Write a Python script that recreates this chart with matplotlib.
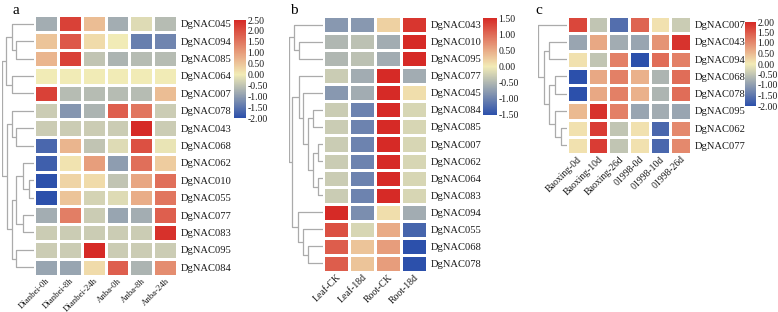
import numpy as np
import matplotlib
matplotlib.use('Agg')
from matplotlib import pyplot as plt
from matplotlib.colors import LinearSegmentedColormap, Normalize

################################################################################
# Data
#
# panel a_______________________________________________________________________

a_rows = ['DgNAC045', 'DgNAC094', 'DgNAC085', 'DgNAC064', 'DgNAC007',
          'DgNAC078', 'DgNAC043', 'DgNAC068', 'DgNAC062', 'DgNAC010',
          'DgNAC055', 'DgNAC077', 'DgNAC083', 'DgNAC095', 'DgNAC084']
a_cols = ['Dianbei-0h', 'Dianbei-8h', 'Dianbei-24h', 'Anba-0h', 'Anba-8h',
          'Anba-24h']
a_vals = [[-0.8,  2.2,  0.6, -0.8, -0.2, -0.6],
          [ 0.5,  1.9,  0.2,  0.0, -1.4, -1.3],
          [ 0.7,  2.2, -0.5, -0.7, -0.6, -0.6],
          [ 0.0,  0.0,  0.0,  0.0,  0.0,  0.0],
          [ 2.2, -0.6, -0.6, -0.6, -0.6,  0.6],
          [-0.4, -1.1, -0.7,  1.8,  1.5, -0.4],
          [-0.4, -0.4, -0.4, -0.4,  2.5, -0.4],
          [-1.7,  0.7, -0.5, -0.2,  2.0, -0.1],
          [-1.8,  0.1,  1.0, -1.0,  1.6,  0.4],
          [-2.0,  0.3,  0.2, -0.5,  0.9,  1.6],
          [-2.0,  0.5, -0.3, -0.2,  0.8,  1.5],
          [-0.8,  1.4, -0.4, -0.9, -0.8,  1.8],
          [-0.4, -0.4, -0.4, -0.4, -0.4,  2.4],
          [-0.4, -0.4,  2.5, -0.4, -0.4, -0.4],
          [-0.9, -0.9,  0.2,  1.8, -0.7,  1.2]]
# merges (child, child, height) -- leaves are row indices
a_tree = [(1, 2, .55), (0, 15, .70), (3, 4, .70), (16, 17, .87),
          (6, 7, .55), (5, 19, .70), (9, 10, .17), (8, 21, .35),
          (11, 12, .35), (22, 23, .55), (13, 14, .55), (24, 25, .70),
          (20, 26, .85), (18, 27, 1.0)]
a_ticks = [-2.0, -1.5, -1.0, -0.5, 0.0, 0.5, 1.0, 1.5, 2.0, 2.5]

# panel b_______________________________________________________________________

b_rows = ['DgNAC043', 'DgNAC010', 'DgNAC095', 'DgNAC077', 'DgNAC045',
          'DgNAC084', 'DgNAC085', 'DgNAC007', 'DgNAC062', 'DgNAC064',
          'DgNAC083', 'DgNAC094', 'DgNAC055', 'DgNAC068', 'DgNAC078']
b_cols = ['Leaf-CK', 'Leaf-18d', 'Root-CK', 'Root-18d']
b_vals = [[-0.8, -0.8,  0.2,  1.4],
          [-0.5, -0.4, -0.6,  1.5],
          [-0.5, -0.4, -0.6,  1.5],
          [-0.3, -0.6,  1.5, -0.6],
          [-0.8, -0.6,  1.5,  0.1],
          [-0.3, -1.0,  1.5, -0.2],
          [-0.3, -1.0,  1.5, -0.2],
          [-0.3, -1.0,  1.5, -0.2],
          [-0.3, -1.0,  1.5, -0.2],
          [-0.3, -1.0,  1.5, -0.2],
          [-0.3, -1.0,  1.5, -0.2],
          [ 1.5, -0.9,  0.1, -0.6],
          [ 1.2, -0.2,  0.5, -1.3],
          [ 1.1,  0.3,  0.6, -1.5],
          [ 1.1,  0.3,  0.6, -1.5]]
b_tree = [(1, 2, .70), (0, 15, .85), (7, 8, .15), (9, 10, .15),
          (17, 18, .30), (5, 6, .30), (20, 19, .45), (4, 21, .60),
          (3, 22, .70), (13, 14, .45), (12, 24, .60), (11, 25, .73),
          (23, 26, .90), (16, 27, 1.0)]
b_ticks = [-1.5, -1.0, -0.5, 0.0, 0.5, 1.0, 1.5]

# panel c_______________________________________________________________________

c_rows = ['DgNAC007', 'DgNAC043', 'DgNAC094', 'DgNAC068', 'DgNAC078',
          'DgNAC095', 'DgNAC062', 'DgNAC077']
c_cols = ['Baoxing-0d', 'Baoxing-10d', 'Baoxing-26d', '01998-0d',
          '01998-10d', '01998-26d']
c_vals = [[ 1.7, -0.5, -1.6,  1.4,  0.1, -0.4],
          [-0.9,  0.7, -0.8, -0.9,  0.9,  1.9],
          [ 0.1, -0.5,  1.1, -2.0,  1.3,  1.1],
          [-2.0,  0.7,  1.1,  0.6, -0.7,  1.3],
          [-2.0,  0.7,  1.1,  0.6, -0.7,  1.3],
          [ 0.5,  1.9,  1.1, -0.9, -0.8, -0.9],
          [ 0.1,  1.8, -0.5,  0.1, -1.7,  1.0],
          [ 0.1,  1.8, -0.5,  0.1, -1.7,  1.0]]
c_tree = [(1, 2, .63), (3, 4, .40), (6, 7, .20), (5, 10, .40),
          (9, 11, .63), (8, 12, .80), (0, 13, 1.0)]
c_ticks = [-2.0, -1.5, -1.0, -0.5, 0.0, 0.5, 1.0, 1.5, 2.0]


################################################################################
# Style
#
plt.rcParams['font.family'] = ['Liberation Serif', 'DejaVu Serif']

W, H = 778, 312
blue, yellow, red = '#2c50ab', '#f2ebb6', '#d62a26'
dcol = '#ababab'


def px(x0, y0, x1, y1):
	# pixel box (top-left origin) -> figure fraction
	return [x0/W, 1 - y1/H, (x1 - x0)/W, (y1 - y0)/H]


def make_cmap(vmin, vmax):
	# yellow pinned at zero
	z = (0 - vmin)/(vmax - vmin)
	return LinearSegmentedColormap.from_list('bgyr', [(0, blue), (z, yellow), (1, red)])


def draw_tree(ax, tree, n):
	pos = {i: i + .5 for i in range(n)}
	hgt = {i: 0. for i in range(n)}
	for k, (l, r, h) in enumerate(tree):
		ax.plot([hgt[l], h, h, hgt[r]], [pos[l], pos[l], pos[r], pos[r]],
		        color=dcol, lw=.9, solid_capstyle='butt')
		pos[n + k] = (pos[l] + pos[r])/2.
		hgt[n + k] = h
	ax.set_ylim(n, 0)
	ax.set_xlim(1.0, 0)
	ax.axis('off')


def panel(letter, rows, cols, vals, tree, ticks, hm, dg, cb, lx, xfs):
	vals = np.array(vals)
	vmin, vmax = ticks[0], ticks[-1]
	cmap = make_cmap(vmin, vmax)

	# heatmap
	ax = fig.add_axes(px(*hm))
	m = ax.pcolormesh(vals, cmap=cmap, norm=Normalize(vmin, vmax),
	                  edgecolors='white', linewidth=.9)
	ax.set_ylim(len(rows), 0)
	ax.set_xlim(0, len(cols))
	for s in ax.spines.values(): s.set_visible(False)
	ax.yaxis.tick_right()
	ax.set_yticks(np.arange(len(rows)) + .5)
	ax.set_yticklabels(rows, fontsize=7.6)
	ax.set_xticks(np.arange(len(cols)) + .5)
	ax.set_xticklabels(cols, fontsize=xfs, rotation=45, ha='right',
	                   rotation_mode='anchor')
	ax.tick_params(axis='y', length=0, pad=2.5, colors='#1a1a1a')
	ax.tick_params(axis='x', length=0, pad=0.5, colors='#1a1a1a')

	# dendrogram
	draw_tree(fig.add_axes(px(*dg)), tree, len(rows))

	# colorbar
	cax = fig.add_axes(px(*cb))
	c = fig.colorbar(m, cax=cax, ticks=ticks)
	c.outline.set_visible(False)
	c.ax.tick_params(length=0, pad=1.0, labelsize=7.0, colors='#1a1a1a')
	c.ax.set_yticklabels(['%.2f' % t for t in ticks])

	# panel letter
	fig.text(lx/W, 1 - 10/H, letter, fontsize=11, va='center')


################################################################################
# Figure
#
fig = plt.figure(figsize=(W/100., H/100.), dpi=100)

panel('a', a_rows, a_cols, a_vals, a_tree, a_ticks,
      (34, 15, 177, 276), (2, 15, 34, 276), (234, 20, 246, 118), 13, 6.3)
panel('b', b_rows, b_cols, b_vals, b_tree, b_ticks,
      (323, 16, 427, 272), (289, 16, 323, 272), (483, 18, 497, 115), 290, 7.0)
panel('c', c_rows, c_cols, c_vals, c_tree, c_ticks,
      (567, 16, 691, 154), (538, 16, 567, 154), (745, 22, 756, 106), 535, 7.0)

fig.savefig('out.png', dpi=100)
